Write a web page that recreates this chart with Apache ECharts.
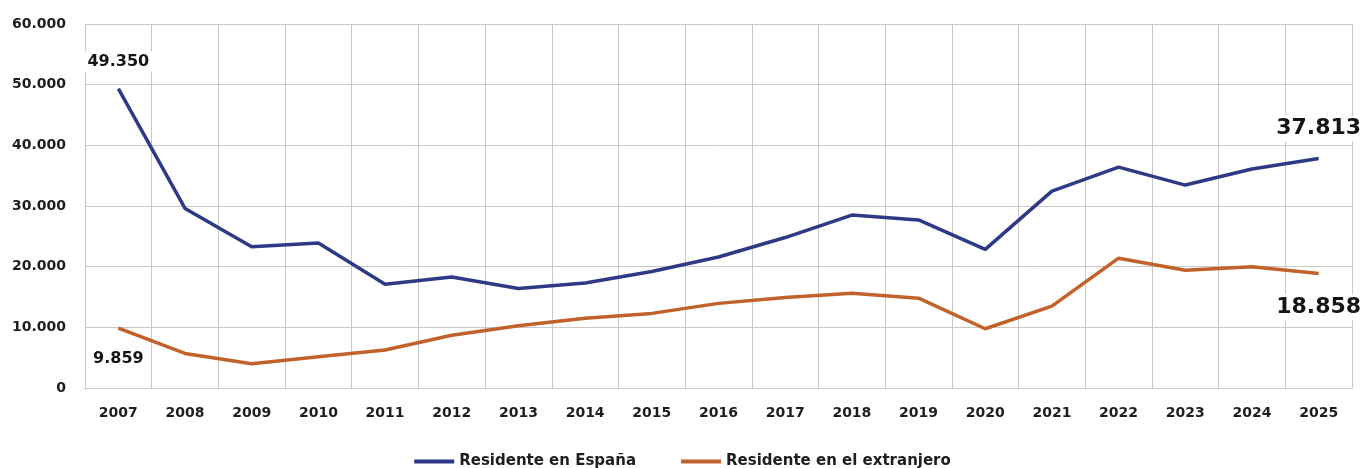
<!DOCTYPE html>
<html>
<head>
<meta charset="utf-8">
<script src="https://cdn.jsdelivr.net/npm/echarts@6/dist/echarts.min.js"></script>
<style>html,body{margin:0;padding:0;background:#fff}#c{width:1365px;height:468px}</style>
</head>
<body>
<div id="c"></div>
<script>
const years = ['2007','2008','2009','2010','2011','2012','2013','2014','2015','2016','2017','2018','2019','2020','2021','2022','2023','2024','2025'];
const residenteEspana = [49350,29600,23300,23900,17100,18300,16400,17300,19200,21600,24800,28500,27700,22850,32450,36400,33450,36100,37813];
const residenteExtranjero = [9859,5700,4000,5150,6260,8700,10260,11500,12300,13950,14900,15600,14800,9770,13500,21400,19400,20000,18858];
const seriesNames = ['Residente en España','Residente en el extranjero'];
const yTicks = {min:0, max:60000, interval:10000};

const fmt = v => v === 0 ? '0' : String(v).replace(/\B(?=(\d{3})+(?!\d))/g, '.');
const font = 'DejaVu Sans';

function buildData(arr, pos, dist, firstSize, lastSize) {
  return arr.map((v, i) => {
    if (i === 0) return {value: v, label: {show: true, position: pos, distance: dist, fontSize: firstSize}};
    if (i === arr.length - 1) return {value: v, label: {show: true, position: pos, distance: dist, fontSize: lastSize}};
    return v;
  });
}

const labelBase = {
  show: false, formatter: p => fmt(p.value), color: '#151515', fontFamily: font, fontWeight: 'bold',
  backgroundColor: '#fff', padding: [2, 4], distance: 14
};

const chart = echarts.init(document.getElementById('c'));
chart.setOption({
  animation: false,
  backgroundColor: '#fff',
  grid: {left: 85, right: 13, top: 24, bottom: 80, containLabel: false},
  xAxis: {
    type: 'category', data: years, boundaryGap: true,
    axisLine: {show: true, lineStyle: {color: '#c8c8c8', width: 1}},
    axisTick: {show: false},
    splitLine: {show: true, lineStyle: {color: '#c8c8c8', width: 1}},
    axisLabel: {color: '#1e1e1e', fontFamily: font, fontWeight: 'bold', fontSize: 14, margin: 18, interval: 0}
  },
  yAxis: {
    type: 'value', min: yTicks.min, max: yTicks.max, interval: yTicks.interval,
    axisLine: {show: false}, axisTick: {show: false},
    splitLine: {show: true, lineStyle: {color: '#c8c8c8', width: 1}},
    axisLabel: {color: '#1e1e1e', fontFamily: font, fontWeight: 'bold', fontSize: 14, margin: 19, formatter: fmt}
  },
  legend: {
    top: 449, left: 'center', itemGap: 45, itemWidth: 40, itemHeight: 4, icon: 'rect',
    textStyle: {color: '#1e1e1e', fontFamily: font, fontWeight: 'bold', fontSize: 15},
    data: seriesNames
  },
  series: [
    {
      name: seriesNames[0], type: 'line', symbol: 'circle', symbolSize: 0, showSymbol: true, smooth: false,
      lineStyle: {color: '#2f3a86', width: 3.5}, itemStyle: {color: '#2f3a86'},
      label: labelBase,
      data: buildData(residenteEspana, 'top', 17, 16, 22)
    },
    {
      name: seriesNames[1], type: 'line', symbol: 'circle', symbolSize: 0, showSymbol: true, smooth: false,
      lineStyle: {color: '#c0622a', width: 3.5}, itemStyle: {color: '#c0622a'},
      label: labelBase,
      data: buildData(residenteExtranjero, 'bottom', 21, 16, 22)
    }
  ]
});
</script>
</body>
</html>
